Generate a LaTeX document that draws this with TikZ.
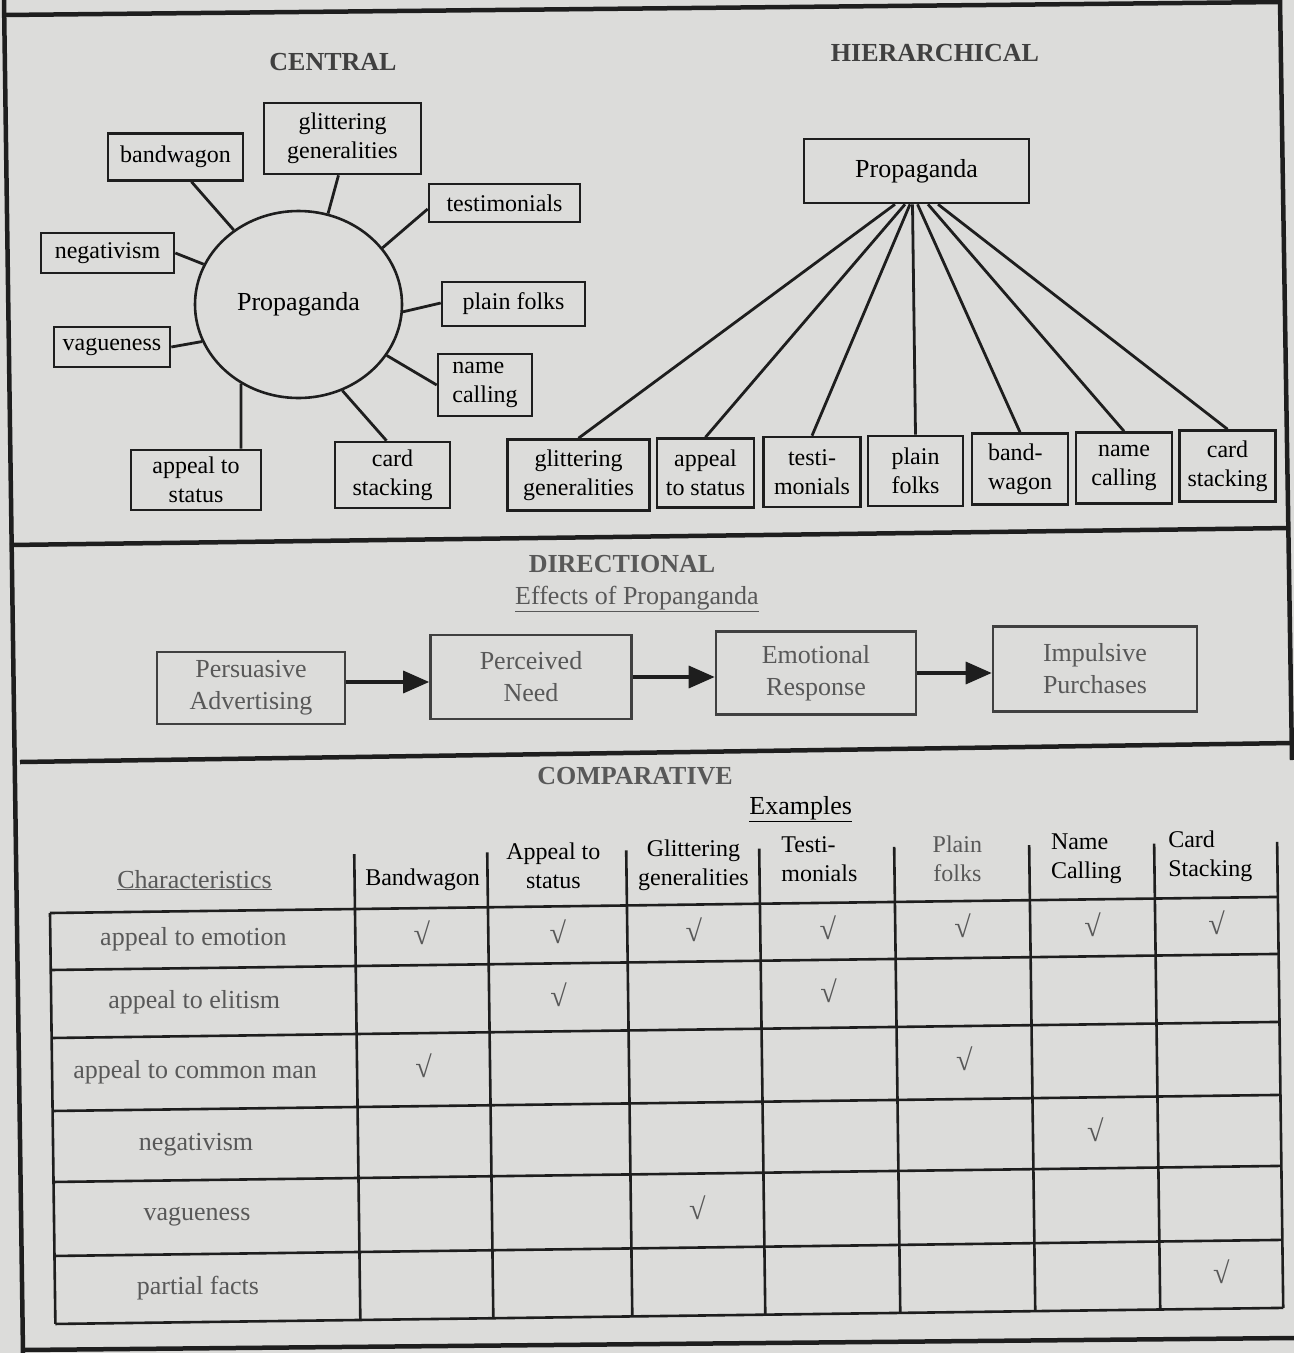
\documentclass[tikz,border=0pt]{standalone}
\usepackage{fontspec}
\setmainfont{Liberation Serif}
\usetikzlibrary{positioning, shapes.geometric, arrows.meta}

\definecolor{paper}{RGB}{220,220,218}
\definecolor{ink}{RGB}{30,30,30}
\definecolor{faded}{RGB}{88,88,88}

\tikzset{
  box/.style={draw=ink, line width=2.6pt, align=center, inner sep=0pt, font=\fontsize{24}{29}\selectfont},
  heading/.style={font=\fontsize{26}{30}\selectfont\bfseries, text=ink!85},
  link/.style={draw=ink, line width=2.8pt},
  flow/.style={draw=ink!85, line width=2.6pt, align=center, inner sep=0pt, text=faded, font=\fontsize{26}{32}\selectfont},
  push/.style={draw=ink, line width=3.4pt, -{Triangle[length=26pt,width=22pt]}},
  framerule/.style={draw=ink, line width=4.5pt},
  gridline/.style={draw=ink, line width=2.6pt},
  head/.style={align=center, inner sep=0pt, font=\fontsize{24}{29}\selectfont},
  rowlab/.style={text=faded, font=\fontsize{26}{30}\selectfont},
  checkmark/.style={text=faded, font=\fontsize{30}{34}\selectfont},
}

\begin{document}
\begin{tikzpicture}[x=1pt, y=-1pt]
  \useasboundingbox (0,0) rectangle (1294,1353);
  \fill[paper] (0,0) rectangle (1294,1353);

  % frame of the sheet
  \draw[framerule] (4,15) -- (1280,2);
  \draw[framerule] (4,0) -- (23,1353);
  \draw[framerule] (1280,0) -- (1292,760);
  \draw[framerule] (10,545) -- (1290,528);
  \draw[framerule] (20,762) -- (1292,743);
  \draw[framerule] (22,1350) -- (1294,1338);

  % central
  \node[heading] (ctitle) at (333,62) {CENTRAL};
  \node[box, ellipse, minimum width=207pt, minimum height=187pt, font=\fontsize{26}{30}\selectfont] (cprop) at (298.5,304.5) {Propaganda};
  \node[box, minimum width=135pt, minimum height=47pt] (cbw) at (175.5,157) {bandwagon};
  \node[box, minimum width=157pt, minimum height=71pt] (cgg) at (342.5,138.5) {glittering\\generalities};
  \node[box, minimum width=151pt, minimum height=38pt] (ctm) at (504.5,203) {testimonials};
  \node[box, minimum width=133pt, minimum height=40pt] (cng) at (107.5,253) {negativism};
  \node[box, minimum width=143pt, minimum height=44pt] (cpf) at (513.5,304) {plain folks};
  \node[box, minimum width=116pt, minimum height=40pt] (cvg) at (112,347) {vagueness};
  \node[box, align=left, minimum width=94pt, minimum height=62pt] (cnc) at (485,385) {name\\calling};
  \node[box, minimum width=130pt, minimum height=60pt] (cas) at (196,480) {appeal to\\status};
  \node[box, minimum width=115pt, minimum height=66pt] (ccs) at (392.5,475) {card\\stacking};

  \draw[link] ([xshift=16pt]cbw.south) -- (cprop.131);
  \draw[link] ([xshift=-4pt]cgg.south) -- (cprop.72);
  \draw[link] ([yshift=-6pt]ctm.west) -- (cprop.34);
  \draw[link] (cng.east) -- (cprop.157);
  \draw[link] ([yshift=1pt]cpf.west) -- (cprop.356);
  \draw[link] (cvg.east) -- (cprop.201);
  \draw[link] (cnc.west) -- (cprop.330);
  \draw[link] ([xshift=45pt]cas.north) -- (cprop.234);
  \draw[link] ([xshift=-6pt]ccs.north) -- (cprop.297);

  % hierarchical
  \node[heading] (htitle) at (935,53) {HIERARCHICAL};
  \node[box, minimum width=225pt, minimum height=64pt, font=\fontsize{26}{30}\selectfont] (hprop) at (916.5,171) {Propaganda};
  \node[box, minimum width=142pt, minimum height=71pt] (hgg) at (578.5,475) {glittering\\generalities};
  \node[box, minimum width=97pt, minimum height=69pt] (has) at (705.5,473) {appeal\\to status};
  \node[box, minimum width=97pt, minimum height=70pt] (htm) at (812,472) {testi-\\monials};
  \node[box, align=left, minimum width=95pt, minimum height=70pt] (hpf) at (915.5,471) {plain\\folks};
  \node[box, align=left, minimum width=96pt, minimum height=71pt] (hbw) at (1020,469) {band-\\wagon};
  \node[box, minimum width=96pt, minimum height=71pt] (hnc) at (1124,468) {name\\calling};
  \node[box, minimum width=96pt, minimum height=71pt] (hcs) at (1227.5,466) {card\\stacking};

  \foreach \tgt/\off in {hgg/-21.5, has/-11.5, htm/-6.5, hpf/-4, hbw/1, hnc/11.5, hcs/21.5}
    \draw[link] ([xshift=\off]hprop.south) -- (\tgt.north);

  % directional
  \node[heading, text=faded] (dtitle) at (622,564) {DIRECTIONAL};
  \node[text=faded, font=\fontsize{26}{30}\selectfont] (dsub) at (637,599) {\underline{Effects of Propanganda}};
  \node[flow, minimum width=188pt, minimum height=72pt] (dpa) at (251,688) {Persuasive\\Advertising};
  \node[flow, minimum width=201pt, minimum height=84pt] (dpn) at (531,677) {Perceived\\Need};
  \node[flow, minimum width=200pt, minimum height=83pt] (der) at (816,673) {Emotional\\Response};
  \node[flow, minimum width=204pt, minimum height=85pt] (dip) at (1095,669) {Impulsive\\Purchases};

  \draw[push] ([yshift=6pt]dpa.east) -- ([yshift=6pt]dpa.east -| dpn.west);
  \draw[push] (dpn.east) -- (dpn.east -| der.west);
  \draw[push] (der.east) -- (der.east -| dip.west);

  % comparative
  \node[heading, text=faded] (ktitle) at (635,776) {COMPARATIVE};
  \begin{scope}[rotate around={0.75:(50,913)}]
    \node[font=\fontsize{26}{30}\selectfont] (kex) at (802,819) {\underline{Examples}};
    \node[rowlab] (kchar) at (195,882) {\underline{Characteristics}};

    \draw[gridline] (50,913) -- (1278,913);
    \foreach \y in {970,1038,1111,1182,1256,1324}
      \draw[gridline] (50,\y) -- (1278,\y);
    \draw[gridline] (50,913) -- (50,1324);
    \foreach \x in {355,488,627,760,895,1030,1155,1278}
      \draw[gridline] (\x,858) -- (\x,1324);

    \node[head] (kbw) at (423,885) {Bandwagon};
    \node[head] (kas) at (554,872) {Appeal to\\status};
    \node[head] (kgg) at (694,874) {Glittering\\generalities};
    \node[head, align=left] (ktm) at (820,869) {Testi-\\monials};
    \node[head, text=faded] (kpf) at (958,871) {Plain\\folks};
    \node[head, align=left] (knc) at (1087,872) {Name\\Calling};
    \node[head, align=left] (kcs) at (1211,871) {Card\\Stacking};

    \foreach \y/\txt [count=\n] in {941.5/appeal to emotion, 1004/appeal to elitism, 1074.5/appeal to common man, 1146.5/negativism, 1219/vagueness, 1290/partial facts}
      \node[rowlab] (row\n) at (193,\y) {\txt};

    \foreach \x/\y [count=\n] in {421.5/938, 557.5/938, 693.5/938, 827.5/938, 962.5/938, 1092.5/938, 1216.5/938,
                                  557.5/1001, 827.5/1001,
                                  421.5/1071, 962.5/1071,
                                  1092.5/1143,
                                  693.5/1216,
                                  1216.5/1287}
      \node[checkmark] (chk\n) at (\x,\y) {√};
  \end{scope}
\end{tikzpicture}
\end{document}
